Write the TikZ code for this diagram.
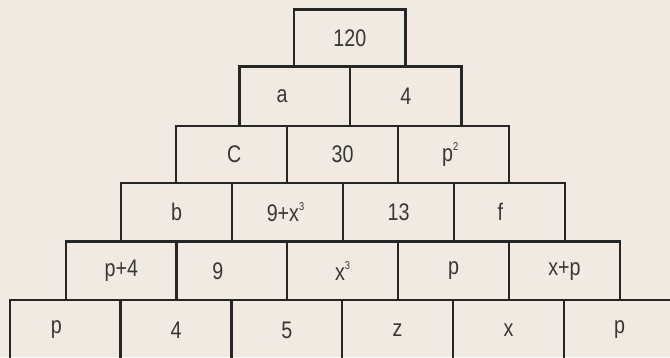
\documentclass[tikz,border=0pt]{standalone}
\usepackage{fontspec}
\setmainfont{Liberation Sans}[FakeStretch=0.82]
\usepackage{tikz}
\definecolor{paper}{RGB}{240,234,227}
\definecolor{ink}{RGB}{38,38,38}
\definecolor{txt}{RGB}{55,55,55}
\newcommand{\expo}[1]{\raisebox{0.9ex}{\fontsize{8.5}{8.5}\selectfont #1}}

\begin{document}
\begin{tikzpicture}[x=0.75pt, y=-0.75pt, line width=2pt, color=ink, text=txt, font=\fontsize{18}{20}\selectfont]
    \fill[paper] (0,0) rectangle (670,357);
    \clip (0,0) rectangle (670,357);
    % top
    \draw (294,9.3) rectangle (405.7,66.7) node[midway] (top) {120};
    % row 2
    \draw (239.3,66.7) rectangle (350,126) node[midway, xshift=-9.5pt] (a) {a};
    \draw (350,66.7) rectangle (461.7,126) node[midway] (r2c2) {4};
    % row 3
    \draw (176,126) rectangle (287,183) node[midway, xshift=2pt] (c) {C};
    \draw (287,126) rectangle (398,183) node[midway] (r3c2) {30};
    \draw (398,126) rectangle (509,183) node[midway, xshift=-2.5pt] (r3c3) {p\expo{2}};
    % row 4
    \draw (121,183) rectangle (232,241.5) node[midway] (b) {b};
    \draw (232,183) rectangle (343,241.5) node[midway, xshift=-1.5pt] (r4c2) {9+x\expo{3}};
    \draw (343,183) rectangle (454,241.5) node[midway] (r4c3) {13};
    \draw (454,183) rectangle (565,241.5) node[midway, xshift=-6.8pt] (f) {f};
    % row 5
    \draw (66,241.5) rectangle (176.7,300) node[midway] (r5c1) {p+4};
    \draw (176.7,241.5) rectangle (287,300) node[midway, xshift=-10.5pt] (r5c2) {9};
    \draw (287,241.5) rectangle (398,300) node[midway] (r5c3) {x\expo{3}};
    \draw (398,241.5) rectangle (509,300) node[midway] (r5c4) {p};
    \draw (509,241.5) rectangle (620,300) node[midway] (r5c5) {x+p};
    % base row
    \draw (10,300) rectangle (120.7,360) node[midway, xshift=-6.8pt] (r6c1) {p};
    \draw (120.7,300) rectangle (231.7,360) node[midway] (r6c2) {4};
    \draw (231.7,300) rectangle (342,360) node[midway] (r6c3) {5};
    \draw (342,300) rectangle (453,360) node[midway] (z) {z};
    \draw (453,300) rectangle (564,360) node[midway] (x) {x};
    \draw (564,300) rectangle (675,360) node[midway] (r6c6) {p};
\end{tikzpicture}
\end{document}
